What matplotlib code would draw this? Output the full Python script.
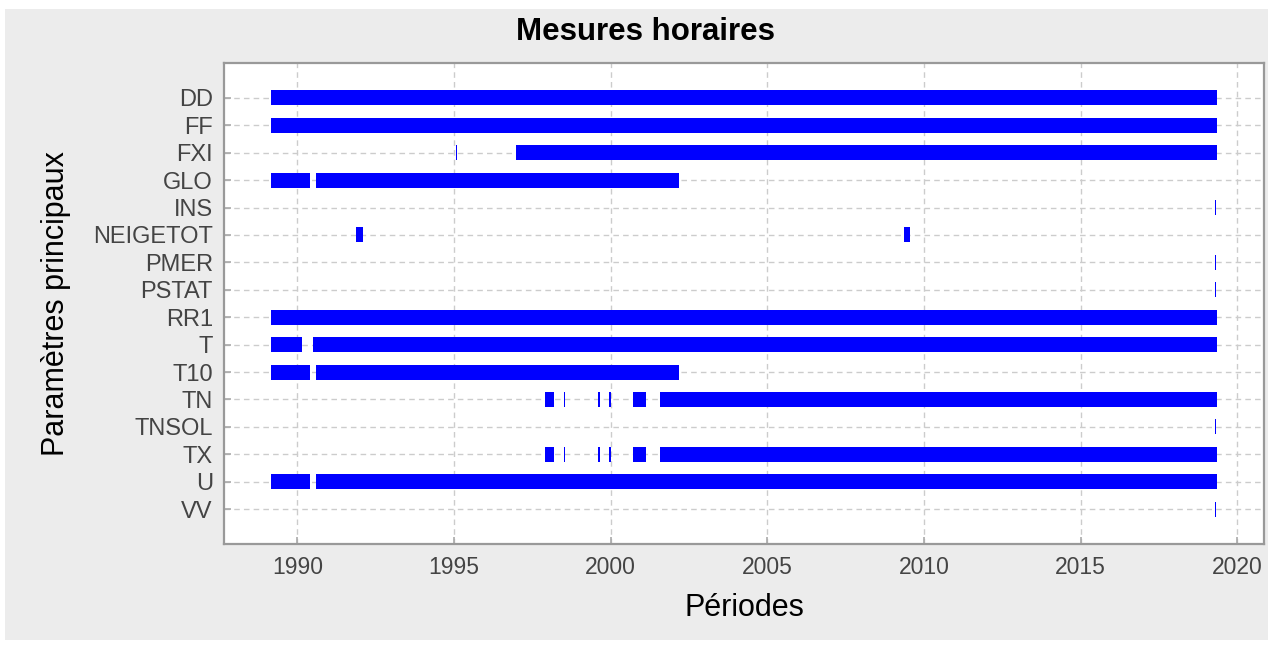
import matplotlib.pyplot as plt
from matplotlib.patches import Rectangle

plt.rcParams['font.family'] = ['Liberation Sans', 'DejaVu Sans']

# periodes de mesure par parametre (annees decimales, debut / fin)
params = ["DD", "FF", "FXI", "GLO", "INS", "NEIGETOT", "PMER", "PSTAT",
          "RR1", "T", "T10", "TN", "TNSOL", "TX", "U", "VV"]

dd = [(1989.17, 2019.34)]
ff = [(1989.17, 2019.34)]
fxi = [(1995.065, 1995.105), (1996.98, 2019.34)]
glo = [(1989.17, 1990.41), (1990.61, 2002.18)]
ins = [(2019.29, 2019.33)]
neigetot = [(1991.88, 1992.10), (2009.36, 2009.55)]
pmer = [(2019.29, 2019.33)]
pstat = [(2019.29, 2019.33)]
rr1 = [(1989.17, 2019.34)]
t = [(1989.17, 1990.16), (1990.51, 2019.34)]
t10 = [(1989.17, 1990.41), (1990.61, 2002.18)]
tn = [(1997.91, 1998.20), (1998.505, 1998.545), (1999.60, 1999.66),
      (1999.96, 2000.02), (2000.71, 2001.13), (2001.58, 2019.34)]
tnsol = [(2019.29, 2019.33)]
tx = [(1997.91, 1998.20), (1998.505, 1998.545), (1999.60, 1999.66),
      (1999.96, 2000.02), (2000.71, 2001.13), (2001.58, 2019.34)]
u = [(1989.17, 1990.41), (1990.61, 2019.34)]
vv = [(2019.29, 2019.33)]

periods = [dd, ff, fxi, glo, ins, neigetot, pmer, pstat,
           rr1, t, t10, tn, tnsol, tx, u, vv]

fig = plt.figure(figsize=(12.73, 6.46), dpi=100, facecolor="white")
# fond gris du cadre
fig.patches.append(Rectangle((5 / 1273, 6 / 646), 1263 / 1273, 631 / 646,
                             transform=fig.transFigure, facecolor="#ececec",
                             edgecolor="none", zorder=-10))
ax = fig.add_axes([224 / 1273, 102 / 646, 1040 / 1273, 481 / 646])
ax.set_facecolor("white")

h = 0.55
for i, segs in enumerate(periods):
    ax.broken_barh([(a, b - a) for a, b in segs], (i - h / 2, h),
                   facecolor="#0000ff", edgecolor="none", zorder=3)

ax.set_yticks(range(len(params)))
ax.set_yticklabels(params)
ax.set_ylim(len(params) - 1 + 1.27, -1.27)
ax.margins(x=0.05)
ax.set_xticks([1990, 1995, 2000, 2005, 2010, 2015, 2020])

ax.grid(True, linestyle=(0, (4, 3)), color="#cccccc", linewidth=1.0, zorder=0)
ax.set_axisbelow(True)
for s in ax.spines.values():
    s.set_color("#999999")
    s.set_linewidth(1.6)
ax.tick_params(direction="in", length=5, width=1.2, color="#aaaaaa",
               labelcolor="#444444", pad=8)
ax.tick_params(axis="x", labelsize=16.5, pad=9)
ax.tick_params(axis="y", labelsize=17)

fig.text(645 / 1273, 1 - 32 / 646, "Mesures horaires", fontsize=22.5,
         fontweight="bold", ha="center", va="center")
ax.set_xlabel("Périodes", fontsize=22, labelpad=10)
ax.set_ylabel("Paramètres principaux", fontsize=22, labelpad=16)

fig.savefig("out.png", dpi=100, facecolor=fig.get_facecolor())
